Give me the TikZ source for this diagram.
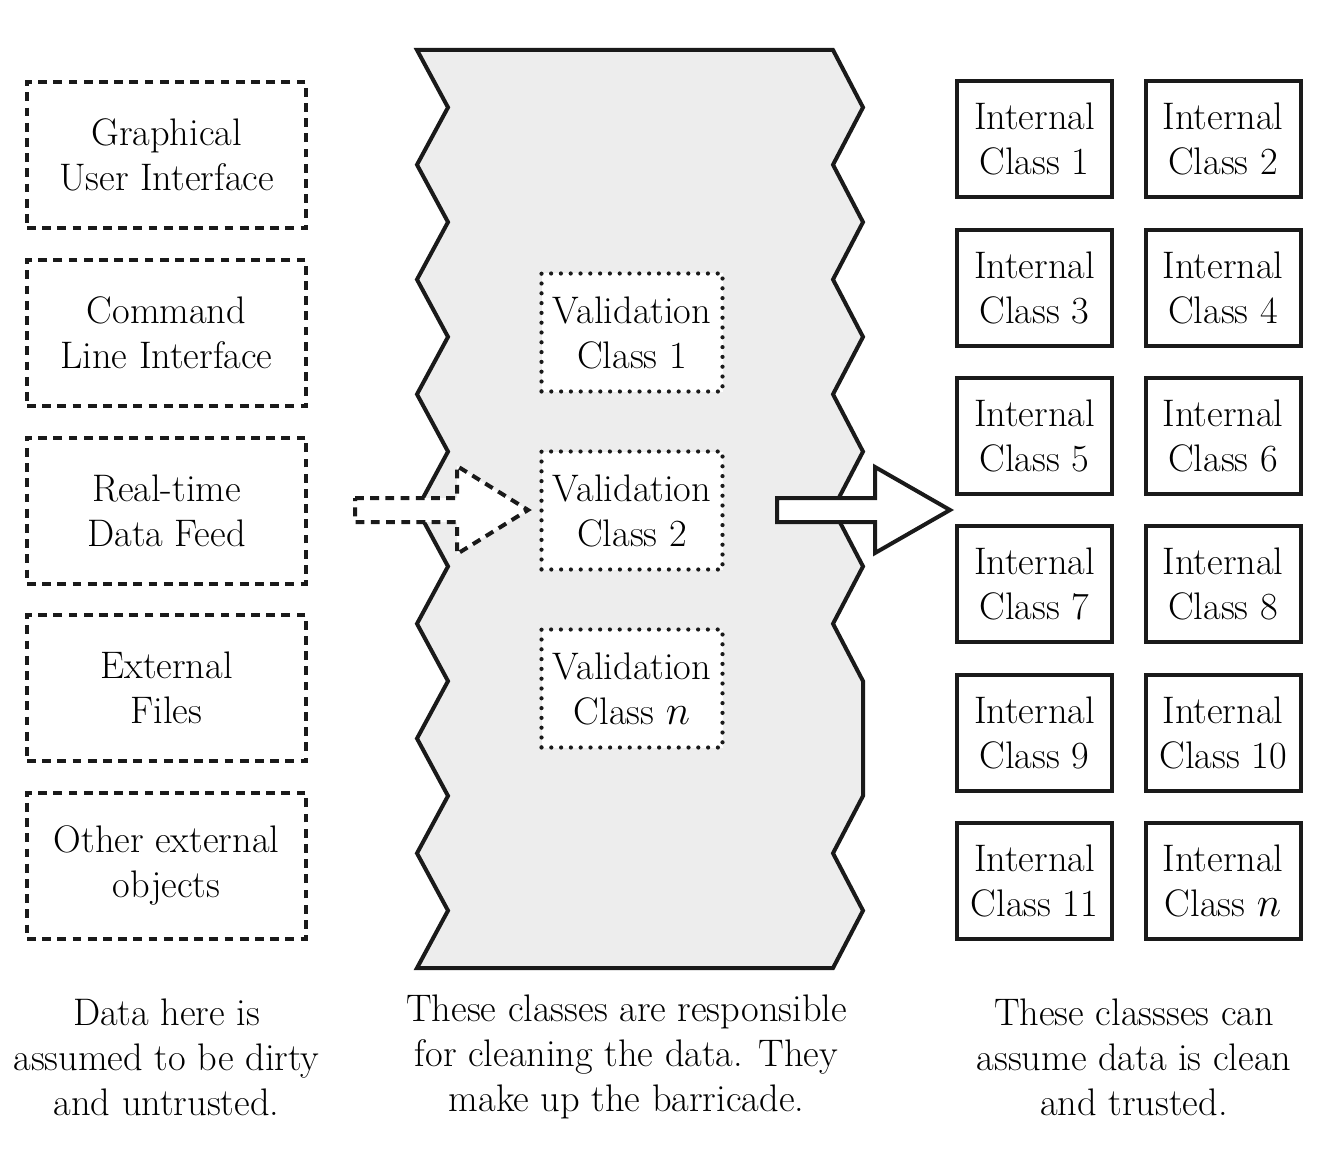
\documentclass[tikz,border=0pt]{standalone}
\usepackage{tikz}
\usepackage{amsmath}
\usepackage{xcolor}
\usetikzlibrary{positioning}
\definecolor{barrgray}{HTML}{EDEDED}
\definecolor{inkblack}{HTML}{1A1A1A}

\tikzset{
  txt/.style={font=\fontsize{19.2}{22.5}\selectfont, align=center, text=black},
  srcbox/.style={txt, draw=inkblack, line width=2pt, dash pattern=on 4.4pt off 3.2pt, fill=white, minimum width=139.5pt, minimum height=73pt, inner sep=0pt},
  valbox/.style={txt, draw=inkblack, line width=2.1pt, line cap=round, dash pattern=on 0pt off 4.9pt, fill=white, minimum width=90.5pt, minimum height=59pt, inner sep=0pt},
  intbox/.style={txt, draw=inkblack, line width=2pt, fill=white, minimum width=77.5pt, minimum height=58pt, inner sep=0pt},
  caption/.style={txt}
}

\begin{document}
\begin{tikzpicture}[x=0.5pt, y=-0.5pt]
\useasboundingbox (0,0) rectangle (1338,1150);

% Barricade
\draw[fill=barrgray, draw=inkblack, line width=2pt, line join=miter]
  (417,50) -- (833,50) -- (863,107.4) -- (833,164.75) -- (863,222.1) -- (833,279.5)
  -- (863,336.9) -- (833,394.25) -- (863,451.6) -- (833,509) -- (863,566.4)
  -- (833,623.75) -- (863,681.1) -- (863,795.9) -- (833,853.25) -- (863,910.6)
  -- (833,968) -- (417,968) -- (448,910.6) -- (417,853.25) -- (448,795.9)
  -- (417,738.5) -- (448,681.1) -- (417,623.75) -- (448,566.4) -- (417,509)
  -- (448,451.6) -- (417,394.25) -- (448,336.9) -- (417,279.5) -- (448,222.1)
  -- (417,164.75) -- (448,107.4) -- cycle;

% External sources
\node[srcbox] (gui) at (166.5,155) {Graphical\\User Interface};
\node[srcbox] (cli) at (166.5,333) {Command\\Line Interface};
\node[srcbox] (feed) at (166.5,510.5) {Real-time\\Data Feed};
\node[srcbox] (files) at (166.5,688) {External\\Files};
\node[srcbox] (other) at (166.5,865.5) {Other external\\objects};

% Validation classes
\node[valbox] (val1) at (632,332.5) {Validation\\Class 1};
\node[valbox] (val2) at (632,510.5) {Validation\\Class 2};
\node[valbox] (valn) at (632,688.5) {Validation\\Class $n$};

% Arrows through the barricade
\draw[fill=white, draw=inkblack, line width=2pt, dash pattern=on 4.4pt off 3.2pt, line join=miter]
  (355,498) -- (457,498) -- (457,466) -- (528,510) -- (457,554) -- (457,522) -- (355,522) -- cycle;
\draw[fill=white, draw=inkblack, line width=2pt, line join=miter]
  (777,498) -- (875,498) -- (875,467) -- (950,510) -- (875,553) -- (875,522) -- (777,522) -- cycle;

% Internal classes
\node[intbox] (int1) at (1034.5,139) {Internal\\Class 1};
\node[intbox] (int2) at (1223,139) {Internal\\Class 2};
\node[intbox] (int3) at (1034.5,288) {Internal\\Class 3};
\node[intbox] (int4) at (1223,288) {Internal\\Class 4};
\node[intbox] (int5) at (1034.5,436) {Internal\\Class 5};
\node[intbox] (int6) at (1223,436) {Internal\\Class 6};
\node[intbox] (int7) at (1034.5,584) {Internal\\Class 7};
\node[intbox] (int8) at (1223,584) {Internal\\Class 8};
\node[intbox] (int9) at (1034.5,733) {Internal\\Class 9};
\node[intbox] (int10) at (1223,733) {Internal\\Class 10};
\node[intbox] (int11) at (1034.5,881) {Internal\\Class 11};
\node[intbox] (intn) at (1223,881) {Internal\\Class $n$};

% Captions
\node[caption] (capleft) at (166.5,1057) {Data here is\\assumed to be dirty\\and untrusted.};
\node[caption] (capmid) at (626.5,1057) {These classes are responsible\\for cleaning the data. They\\make up the barricade.};
\node[caption] (capright) at (1134,1057) {These classses can\\assume data is clean\\and trusted.};
\end{tikzpicture}
\end{document}
